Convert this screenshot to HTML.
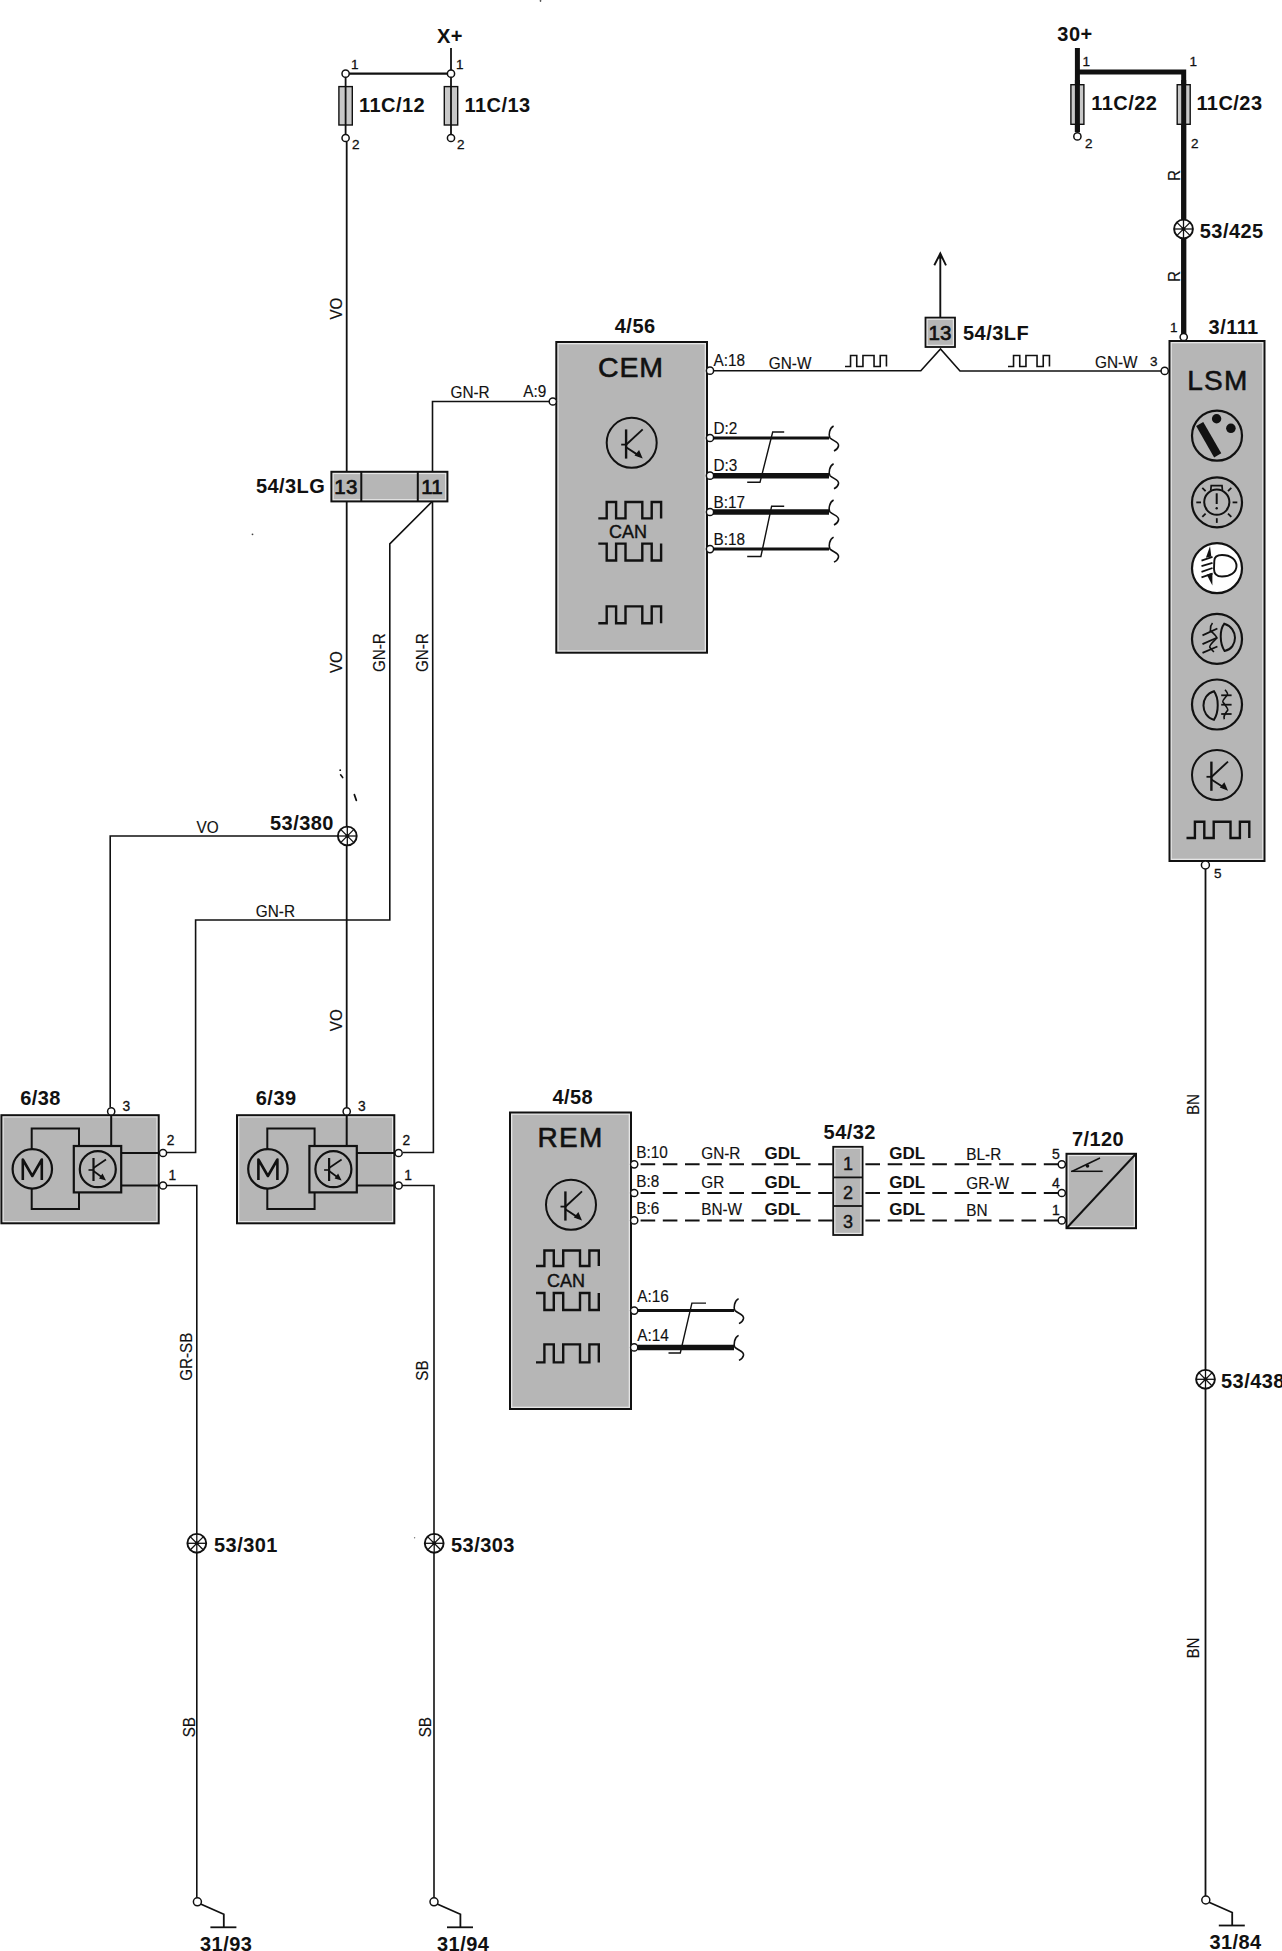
<!DOCTYPE html>
<html><head><meta charset="utf-8"><style>
html,body{margin:0;padding:0;background:#fff;width:1282px;height:1951px;overflow:hidden}
svg{display:block}
text{font-family:"Liberation Sans",sans-serif}
</style></head><body>
<svg width="1282" height="1951" viewBox="0 0 1282 1951">
<text x="450" y="43" font-size="20" font-weight="bold" text-anchor="middle" fill="#111111" letter-spacing="0.45">X+</text>
<line x1="451" y1="48" x2="451" y2="74" stroke="#111111" stroke-width="1.8" />
<line x1="345.6" y1="73.7" x2="451" y2="73.7" stroke="#111111" stroke-width="2.2" />
<rect x="338.90000000000003" y="86.6" width="13.4" height="38.4" fill="#c8c8c8" stroke="#111111" stroke-width="1.4"/>
<line x1="345.6" y1="74" x2="345.6" y2="138" stroke="#111111" stroke-width="1.8" />
<circle cx="345.6" cy="73.7" r="3.6" fill="#fff" stroke="#111111" stroke-width="1.5"/>
<circle cx="345.6" cy="138" r="3.6" fill="#fff" stroke="#111111" stroke-width="1.5"/>
<rect x="444.3" y="86.6" width="13.4" height="38.4" fill="#c8c8c8" stroke="#111111" stroke-width="1.4"/>
<line x1="451" y1="74" x2="451" y2="138" stroke="#111111" stroke-width="1.8" />
<circle cx="451" cy="73.7" r="3.6" fill="#fff" stroke="#111111" stroke-width="1.5"/>
<circle cx="451" cy="138" r="3.6" fill="#fff" stroke="#111111" stroke-width="1.5"/>
<text x="351" y="69" font-size="13.5" font-weight="normal" text-anchor="start" fill="#111111" stroke="#111111" stroke-width="0.3">1</text>
<text x="456" y="69" font-size="13.5" font-weight="normal" text-anchor="start" fill="#111111" stroke="#111111" stroke-width="0.3">1</text>
<text x="352" y="149" font-size="13.5" font-weight="normal" text-anchor="start" fill="#111111" stroke="#111111" stroke-width="0.3">2</text>
<text x="457" y="149" font-size="13.5" font-weight="normal" text-anchor="start" fill="#111111" stroke="#111111" stroke-width="0.3">2</text>
<text x="359" y="111.5" font-size="20" font-weight="bold" text-anchor="start" fill="#111111" letter-spacing="0.45">11C/12</text>
<text x="464.5" y="111.5" font-size="20" font-weight="bold" text-anchor="start" fill="#111111" letter-spacing="0.45">11C/13</text>
<text x="1075" y="41" font-size="20" font-weight="bold" text-anchor="middle" fill="#111111" letter-spacing="0.45">30+</text>
<line x1="1077.4" y1="48" x2="1077.4" y2="132" stroke="#111111" stroke-width="5" />
<polyline points="1077.4,72 1183.7,72 1183.7,337" fill="none" stroke="#111111" stroke-width="5" stroke-linejoin="miter" />
<rect x="1070.9" y="84.7" width="13.0" height="39.6" fill="#c8c8c8" stroke="#111111" stroke-width="1.4"/>
<rect x="1177.2" y="84.7" width="13.0" height="39.6" fill="#c8c8c8" stroke="#111111" stroke-width="1.4"/>
<line x1="1077.4" y1="80" x2="1077.4" y2="132" stroke="#111111" stroke-width="5" />
<line x1="1183.7" y1="80" x2="1183.7" y2="337" stroke="#111111" stroke-width="5" />
<circle cx="1077.4" cy="136.4" r="3.6" fill="#fff" stroke="#111111" stroke-width="1.5"/>
<circle cx="1183.7" cy="337" r="3.6" fill="#fff" stroke="#111111" stroke-width="1.5"/>
<text x="1082.5" y="66" font-size="13.5" font-weight="normal" text-anchor="start" fill="#111111" stroke="#111111" stroke-width="0.3">1</text>
<text x="1189.6" y="66" font-size="13.5" font-weight="normal" text-anchor="start" fill="#111111" stroke="#111111" stroke-width="0.3">1</text>
<text x="1085" y="147.5" font-size="13.5" font-weight="normal" text-anchor="start" fill="#111111" stroke="#111111" stroke-width="0.3">2</text>
<text x="1191" y="147.5" font-size="13.5" font-weight="normal" text-anchor="start" fill="#111111" stroke="#111111" stroke-width="0.3">2</text>
<text x="1091.3" y="110" font-size="20" font-weight="bold" text-anchor="start" fill="#111111" letter-spacing="0.45">11C/22</text>
<text x="1196.4" y="110" font-size="20" font-weight="bold" text-anchor="start" fill="#111111" letter-spacing="0.45">11C/23</text>
<text transform="translate(1179.5,181) rotate(-90) scale(0.92,1)" font-size="16.5" text-anchor="start" fill="#111111" stroke="#111111" stroke-width="0.15">R</text>
<text transform="translate(1179.5,282) rotate(-90) scale(0.92,1)" font-size="16.5" text-anchor="start" fill="#111111" stroke="#111111" stroke-width="0.15">R</text>
<circle cx="1183.5" cy="229" r="9.4" fill="#fff" stroke="#111111" stroke-width="1.9"/>
<line x1="1174.1" y1="229.0" x2="1192.9" y2="229.0" stroke="#111111" stroke-width="1.3" />
<line x1="1176.85" y1="222.35" x2="1190.15" y2="235.65" stroke="#111111" stroke-width="1.3" />
<line x1="1183.5" y1="219.6" x2="1183.5" y2="238.4" stroke="#111111" stroke-width="1.3" />
<line x1="1190.15" y1="222.35" x2="1176.85" y2="235.65" stroke="#111111" stroke-width="1.3" />
<circle cx="1183.5" cy="229" r="2" fill="#111111"/>
<text x="1199.8" y="237.6" font-size="20" font-weight="bold" text-anchor="start" fill="#111111" letter-spacing="0.45">53/425</text>
<rect x="1169.5" y="341" width="95.0" height="520" fill="#e6e6e6" stroke="#111111" stroke-width="2"/>
<rect x="1171.8" y="343.3" width="90.4" height="515.4" fill="#b6b6b6"/>
<text x="1170" y="332" font-size="13.5" font-weight="normal" text-anchor="start" fill="#111111" stroke="#111111" stroke-width="0.3">1</text>
<text x="1208.6" y="334.2" font-size="20" font-weight="bold" text-anchor="start" fill="#111111" letter-spacing="0.45">3/111</text>
<text x="1218" y="389.5" font-size="28" font-weight="normal" text-anchor="middle" fill="#111111" letter-spacing="1.3" stroke="#111111" stroke-width="0.6">LSM</text>
<circle cx="1164.7" cy="370.9" r="3.6" fill="#fff" stroke="#111111" stroke-width="1.5"/>
<text x="1150" y="365.6" font-size="13.5" font-weight="normal" text-anchor="start" fill="#111111" stroke="#111111" stroke-width="0.3">3</text>
<circle cx="1217" cy="435.7" r="25" fill="none" stroke="#111111" stroke-width="2.2"/>
<line x1="1199.7" y1="424" x2="1217.7" y2="455.4" stroke="#111111" stroke-width="8.2"/>
<circle cx="1216.6" cy="418.7" r="4.7" fill="#111111"/>
<circle cx="1230.9" cy="428.3" r="4.8" fill="#111111"/>
<circle cx="1217" cy="502.4" r="25" fill="none" stroke="#111111" stroke-width="2.2"/>
<circle cx="1216.8" cy="502.2" r="12.6" fill="none" stroke="#111111" stroke-width="2"/>
<path d="M1210.8,490 L1211.2,485.6 L1222,485.6 L1222.4,490" fill="none" stroke="#111111" stroke-width="1.7"/>
<line x1="1216.7" y1="493.3" x2="1216.7" y2="504" stroke="#111111" stroke-width="2" />
<circle cx="1216.7" cy="508.3" r="1.2" fill="#111111"/>
<line x1="1205.6" y1="513.6" x2="1202.3" y2="516.9" stroke="#111111" stroke-width="1.8" />
<line x1="1228.0" y1="513.6" x2="1231.3" y2="516.9" stroke="#111111" stroke-width="1.8" />
<line x1="1201.0" y1="502.4" x2="1196.3" y2="502.4" stroke="#111111" stroke-width="1.8" />
<line x1="1232.6" y1="502.4" x2="1237.3" y2="502.4" stroke="#111111" stroke-width="1.8" />
<line x1="1205.6" y1="491.2" x2="1202.3" y2="487.9" stroke="#111111" stroke-width="1.8" />
<line x1="1228.0" y1="491.2" x2="1231.3" y2="487.9" stroke="#111111" stroke-width="1.8" />
<line x1="1216.8" y1="518.2" x2="1216.8" y2="522.9" stroke="#111111" stroke-width="1.8" />
<circle cx="1217" cy="568.2" r="25" fill="#fff" stroke="#111111" stroke-width="2.2"/>
<path d="M1214.3,561 C1214.3,556.5 1217,555 1222,555 C1231,555 1236.5,560 1236.5,566 C1236.5,572.5 1230,576.5 1222,576.5 C1217,576.5 1214,574 1214,569 Z" fill="#fff" stroke="#111111" stroke-width="1.9"/>
<line x1="1201.5" y1="560.6" x2="1212.5" y2="556.8" stroke="#111111" stroke-width="1.8" />
<line x1="1201.5" y1="566.2" x2="1212.5" y2="562.8" stroke="#111111" stroke-width="1.8" />
<line x1="1201.5" y1="571.8" x2="1212.5" y2="568" stroke="#111111" stroke-width="1.8" />
<line x1="1201.5" y1="577.4" x2="1212.5" y2="573.7" stroke="#111111" stroke-width="1.8" />
<polygon points="1210,546.2 1205.9,557.8 1211.3,556.6" fill="#111111"/>
<polygon points="1206.8,574.8 1212.4,572.8 1212.4,585.5" fill="#111111"/>
<circle cx="1217" cy="638.9" r="25" fill="none" stroke="#111111" stroke-width="2.2"/>
<path d="M1224.3,623.7 C1238.5,628 1238.5,648 1224.6,651 C1219.5,643 1219.5,630 1224.3,623.7 Z" fill="none" stroke="#111111" stroke-width="2"/>
<line x1="1202.5" y1="635.4" x2="1217.4" y2="628.5" stroke="#111111" stroke-width="1.8" />
<line x1="1202.5" y1="644.1" x2="1217.4" y2="637.5" stroke="#111111" stroke-width="1.8" />
<line x1="1202.5" y1="652.8" x2="1217.4" y2="646.5" stroke="#111111" stroke-width="1.8" />
<path d="M1212.5,623 C1209,627 1211,630 1210.4,630.6 C1214,634 1217,636 1216.7,638.2 C1213,642 1209,645 1209.8,647.2 C1211,649 1213,651 1213.9,652" fill="none" stroke="#111111" stroke-width="1.6"/>
<circle cx="1217" cy="704.5" r="25" fill="none" stroke="#111111" stroke-width="2.2"/>
<path d="M1213.9,691.2 C1200,695 1200,716 1213.9,719.9 C1219,712 1219,698 1213.9,691.2 Z" fill="none" stroke="#111111" stroke-width="2"/>
<line x1="1221.2" y1="695.3" x2="1231.6" y2="695.3" stroke="#111111" stroke-width="1.8" />
<line x1="1221.2" y1="704.7" x2="1231.6" y2="704.7" stroke="#111111" stroke-width="1.8" />
<line x1="1221.2" y1="714" x2="1231.6" y2="714" stroke="#111111" stroke-width="1.8" />
<path d="M1225,689.8 C1227,692 1228,694 1227.3,695 C1224,699 1222,701 1222.9,702 C1226,706 1228,709 1227.8,710 C1225,714 1223,716 1224.3,719.2" fill="none" stroke="#111111" stroke-width="1.6"/>
<circle cx="1217" cy="775" r="25" fill="none" stroke="#111111" stroke-width="2"/>
<line x1="1211.4" y1="761.6" x2="1211.4" y2="790.8" stroke="#111111" stroke-width="2.4" />
<line x1="1206.5" y1="776.8" x2="1211.4" y2="776.8" stroke="#111111" stroke-width="1.8" />
<line x1="1211.4" y1="777" x2="1228" y2="761.6" stroke="#111111" stroke-width="1.9" />
<line x1="1211.4" y1="779.5" x2="1225" y2="788.3" stroke="#111111" stroke-width="1.9" />
<polygon points="1228,790.8 1219.8,787.5999999999999 1224.4,782.1999999999999" fill="#111111"/>
<polyline points="1186.5,838 1194.9,838 1194.9,821.7 1204.3,821.7 1204.3,838 1213.7,838 1213.7,821.7 1230.5,821.7 1230.5,838 1239.9,838 1239.9,821.7 1249.3,821.7 1249.3,838" fill="none" stroke="#111111" stroke-width="2.4" stroke-linejoin="miter" />
<circle cx="1205.4" cy="865" r="4" fill="#fff" stroke="#111111" stroke-width="1.5"/>
<text x="1214" y="877.5" font-size="13.5" font-weight="normal" text-anchor="start" fill="#111111" stroke="#111111" stroke-width="0.3">5</text>
<line x1="1205.5" y1="869" x2="1205.5" y2="1896" stroke="#111111" stroke-width="1.8" />
<circle cx="1205.5" cy="1379.3" r="9.4" fill="#fff" stroke="#111111" stroke-width="1.9"/>
<line x1="1196.1" y1="1379.3" x2="1214.9" y2="1379.3" stroke="#111111" stroke-width="1.3" />
<line x1="1198.85" y1="1372.65" x2="1212.15" y2="1385.95" stroke="#111111" stroke-width="1.3" />
<line x1="1205.5" y1="1369.9" x2="1205.5" y2="1388.7" stroke="#111111" stroke-width="1.3" />
<line x1="1212.15" y1="1372.65" x2="1198.85" y2="1385.95" stroke="#111111" stroke-width="1.3" />
<circle cx="1205.5" cy="1379.3" r="2" fill="#111111"/>
<text x="1221" y="1387.6" font-size="20" font-weight="bold" text-anchor="start" fill="#111111" letter-spacing="0.45">53/438</text>
<text transform="translate(1199,1115) rotate(-90) scale(0.92,1)" font-size="16.5" text-anchor="start" fill="#111111" stroke="#111111" stroke-width="0.15">BN</text>
<text transform="translate(1199,1658.5) rotate(-90) scale(0.92,1)" font-size="16.5" text-anchor="start" fill="#111111" stroke="#111111" stroke-width="0.15">BN</text>
<circle cx="1205.8" cy="1900" r="4" fill="#fff" stroke="#111111" stroke-width="1.5"/>
<polyline points="1209.0,1902.2 1232.2,1912.5 1232.2,1925.5" fill="none" stroke="#111111" stroke-width="1.8" stroke-linejoin="miter" />
<line x1="1218.8" y1="1925.5" x2="1244.8" y2="1925.5" stroke="#111111" stroke-width="1.8" />
<text x="1209.4" y="1949" font-size="20" font-weight="bold" text-anchor="start" fill="#111111" letter-spacing="0.45">31/84</text>
<line x1="940.3" y1="256" x2="940.3" y2="317.6" stroke="#111111" stroke-width="1.9" />
<polyline points="934.3,265.3 940.3,253.5 946,265.3" fill="none" stroke="#111111" stroke-width="1.9"/>
<polygon points="940.3,252.2 938.2,258.5 942.4,258.5" fill="#111111"/>
<rect x="925.5" y="317.6" width="29.5" height="29.4" fill="#e6e6e6" stroke="#111111" stroke-width="1.8"/>
<rect x="927.7" y="319.8" width="25.1" height="25.0" fill="#b6b6b6"/>
<text x="940" y="340.3" font-size="20.5" font-weight="normal" text-anchor="middle" fill="#111111" stroke="#111111" stroke-width="0.7">13</text>
<text x="963" y="340.2" font-size="20" font-weight="bold" text-anchor="start" fill="#111111" letter-spacing="0.45">54/3LF</text>
<polyline points="710,370.7 920.8,370.7 940.5,349 960,371 1161,371" fill="none" stroke="#111111" stroke-width="1.6" stroke-linejoin="miter" />
<text transform="translate(1095,367.8) scale(0.93,1)" font-size="16.5" text-anchor="start" fill="#111111" stroke="#111111" stroke-width="0.15">GN-W</text>
<polyline points="1008.0,366.5 1013.54,366.5 1013.54,355.5 1019.75,355.5 1019.75,366.5 1025.95,366.5 1025.95,355.5 1037.04,355.5 1037.04,366.5 1043.24,366.5 1043.24,355.5 1049.45,355.5 1049.45,366.5" fill="none" stroke="#111111" stroke-width="1.6" stroke-linejoin="miter" />
<polyline points="845.0,366.5 850.54,366.5 850.54,355.5 856.75,355.5 856.75,366.5 862.95,366.5 862.95,355.5 874.04,355.5 874.04,366.5 880.24,366.5 880.24,355.5 886.45,355.5 886.45,366.5" fill="none" stroke="#111111" stroke-width="1.6" stroke-linejoin="miter" />
<text transform="translate(768.8,368.9) scale(0.93,1)" font-size="16.5" text-anchor="start" fill="#111111" stroke="#111111" stroke-width="0.15">GN-W</text>
<text x="614.8" y="333" font-size="20" font-weight="bold" text-anchor="start" fill="#111111" letter-spacing="0.45">4/56</text>
<rect x="556.3" y="342" width="150.7" height="310.7" fill="#e6e6e6" stroke="#111111" stroke-width="2"/>
<rect x="558.6" y="344.3" width="146.1" height="306.1" fill="#b6b6b6"/>
<text x="631" y="376.5" font-size="28.5" font-weight="normal" text-anchor="middle" fill="#111111" letter-spacing="0.9" stroke="#111111" stroke-width="0.6">CEM</text>
<circle cx="710" cy="370.7" r="3.6" fill="#fff" stroke="#111111" stroke-width="1.5"/>
<text transform="translate(713.5,365.7) scale(0.93,1)" font-size="16.5" text-anchor="start" fill="#111111" stroke="#111111" stroke-width="0.15">A:18</text>
<polyline points="432.5,471.8 432.5,401.5 549,401.5" fill="none" stroke="#111111" stroke-width="1.6" stroke-linejoin="miter" />
<circle cx="552.8" cy="401.5" r="3.6" fill="#fff" stroke="#111111" stroke-width="1.5"/>
<text transform="translate(523.3,397) scale(0.93,1)" font-size="16.5" text-anchor="start" fill="#111111" stroke="#111111" stroke-width="0.15">A:9</text>
<text transform="translate(450.5,397.6) scale(0.93,1)" font-size="16.5" text-anchor="start" fill="#111111" stroke="#111111" stroke-width="0.15">GN-R</text>
<circle cx="631.7" cy="442.8" r="25" fill="none" stroke="#111111" stroke-width="2"/>
<line x1="626.1" y1="429.40000000000003" x2="626.1" y2="458.6" stroke="#111111" stroke-width="2.4" />
<line x1="621.2" y1="444.6" x2="626.1" y2="444.6" stroke="#111111" stroke-width="1.8" />
<line x1="626.1" y1="444.8" x2="642.7" y2="429.40000000000003" stroke="#111111" stroke-width="1.9" />
<line x1="626.1" y1="447.3" x2="639.7" y2="456.1" stroke="#111111" stroke-width="1.9" />
<polygon points="642.7,458.6 634.5,455.40000000000003 639.1,450.0" fill="#111111"/>
<polyline points="598.3,518.4 606.7,518.4 606.7,502.0 616.1,502.0 616.1,518.4 625.5,518.4 625.5,502.0 642.3,502.0 642.3,518.4 651.7,518.4 651.7,502.0 661.1,502.0 661.1,518.4" fill="none" stroke="#111111" stroke-width="2.4" stroke-linejoin="miter" />
<text x="628" y="537.6" font-size="18" font-weight="normal" text-anchor="middle" fill="#111111" stroke="#111111" stroke-width="0.4">CAN</text>
<polyline points="598.3,543.6 606.7,543.6 606.7,560.5 616.1,560.5 616.1,543.6 625.5,543.6 625.5,560.5 642.3,560.5 642.3,543.6 651.7,543.6 651.7,560.5 661.1,560.5 661.1,543.6" fill="none" stroke="#111111" stroke-width="2.4" stroke-linejoin="miter" />
<polyline points="598.3,623.2 606.7,623.2 606.7,606.4000000000001 616.1,606.4000000000001 616.1,623.2 625.5,623.2 625.5,606.4000000000001 642.3,606.4000000000001 642.3,623.2 651.7,623.2 651.7,606.4000000000001 661.1,606.4000000000001 661.1,623.2" fill="none" stroke="#111111" stroke-width="2.4" stroke-linejoin="miter" />
<line x1="713" y1="438" x2="829" y2="438" stroke="#111111" stroke-width="3" />
<circle cx="710" cy="438" r="3.6" fill="#fff" stroke="#111111" stroke-width="1.5"/>
<text transform="translate(713.5,433.6) scale(0.93,1)" font-size="16.5" text-anchor="start" fill="#111111" stroke="#111111" stroke-width="0.15">D:2</text>
<path d="M833.6,426 C829.5,428 828.2,435 830,438 C833,441 839.5,442 838.5,446 C838,448 836,450 834,451" fill="none" stroke="#111111" stroke-width="1.6"/>
<line x1="713" y1="475.7" x2="829" y2="475.7" stroke="#111111" stroke-width="5.5" />
<circle cx="710" cy="475.7" r="3.6" fill="#fff" stroke="#111111" stroke-width="1.5"/>
<text transform="translate(713.5,471.3) scale(0.93,1)" font-size="16.5" text-anchor="start" fill="#111111" stroke="#111111" stroke-width="0.15">D:3</text>
<path d="M833.6,463.7 C829.5,465.7 828.2,472.7 830,475.7 C833,478.7 839.5,479.7 838.5,483.7 C838,485.7 836,487.7 834,488.7" fill="none" stroke="#111111" stroke-width="1.6"/>
<line x1="713" y1="512" x2="829" y2="512" stroke="#111111" stroke-width="5.5" />
<circle cx="710" cy="512" r="3.6" fill="#fff" stroke="#111111" stroke-width="1.5"/>
<text transform="translate(713.5,507.6) scale(0.93,1)" font-size="16.5" text-anchor="start" fill="#111111" stroke="#111111" stroke-width="0.15">B:17</text>
<path d="M833.6,500 C829.5,502 828.2,509 830,512 C833,515 839.5,516 838.5,520 C838,522 836,524 834,525" fill="none" stroke="#111111" stroke-width="1.6"/>
<line x1="713" y1="549.1" x2="829" y2="549.1" stroke="#111111" stroke-width="3" />
<circle cx="710" cy="549.1" r="3.6" fill="#fff" stroke="#111111" stroke-width="1.5"/>
<text transform="translate(713.5,544.7) scale(0.93,1)" font-size="16.5" text-anchor="start" fill="#111111" stroke="#111111" stroke-width="0.15">B:18</text>
<path d="M833.6,537.1 C829.5,539.1 828.2,546.1 830,549.1 C833,552.1 839.5,553.1 838.5,557.1 C838,559.1 836,561.1 834,562.1" fill="none" stroke="#111111" stroke-width="1.6"/>
<polyline points="747.2,482.3 760,482.3 772.7,432 784.2,432" fill="none" stroke="#111111" stroke-width="1.4" stroke-linejoin="miter" />
<polyline points="784.2,506.3 771.6,506.3 760.9,556.5 747.2,556.5" fill="none" stroke="#111111" stroke-width="1.4" stroke-linejoin="miter" />
<text x="255.9" y="493" font-size="20" font-weight="bold" text-anchor="start" fill="#111111" letter-spacing="0.45">54/3LG</text>
<rect x="331.4" y="471.8" width="116.0" height="29.6" fill="#e6e6e6" stroke="#111111" stroke-width="2"/>
<rect x="333.7" y="474.1" width="111.4" height="25.0" fill="#b6b6b6"/>
<line x1="361.3" y1="471.8" x2="361.3" y2="501.4" stroke="#111111" stroke-width="2" />
<line x1="417.8" y1="471.8" x2="417.8" y2="501.4" stroke="#111111" stroke-width="2" />
<text x="346" y="494.3" font-size="20.5" font-weight="normal" text-anchor="middle" fill="#111111" letter-spacing="0.4" stroke="#111111" stroke-width="0.7">13</text>
<text x="432" y="494.3" font-size="20.5" font-weight="normal" text-anchor="middle" fill="#111111" stroke="#111111" stroke-width="0.7">11</text>
<line x1="346.7" y1="142" x2="346.7" y2="471.8" stroke="#111111" stroke-width="1.8" />
<line x1="346.7" y1="501.4" x2="346.7" y2="1107" stroke="#111111" stroke-width="1.8" />
<text transform="translate(341.8,319.5) rotate(-90) scale(0.92,1)" font-size="16.5" text-anchor="start" fill="#111111" stroke="#111111" stroke-width="0.15">VO</text>
<text transform="translate(341.8,673) rotate(-90) scale(0.92,1)" font-size="16.5" text-anchor="start" fill="#111111" stroke="#111111" stroke-width="0.15">VO</text>
<text transform="translate(341.8,1031.2) rotate(-90) scale(0.92,1)" font-size="16.5" text-anchor="start" fill="#111111" stroke="#111111" stroke-width="0.15">VO</text>
<polyline points="432.3,501.4 389.8,543.9 389.8,920 195.6,920 195.6,1152.5 166.5,1152.5" fill="none" stroke="#111111" stroke-width="1.6" stroke-linejoin="miter" />
<polyline points="432.5,501.4 433.4,1152.5 403,1152.5" fill="none" stroke="#111111" stroke-width="1.6" stroke-linejoin="miter" />
<text transform="translate(384.5,672) rotate(-90) scale(0.92,1)" font-size="16.5" text-anchor="start" fill="#111111" stroke="#111111" stroke-width="0.15">GN-R</text>
<text transform="translate(427.5,672) rotate(-90) scale(0.92,1)" font-size="16.5" text-anchor="start" fill="#111111" stroke="#111111" stroke-width="0.15">GN-R</text>
<text transform="translate(255.8,917.4) scale(0.93,1)" font-size="16.5" text-anchor="start" fill="#111111" stroke="#111111" stroke-width="0.15">GN-R</text>
<polyline points="347.3,836 110.2,836 110.2,1107" fill="none" stroke="#111111" stroke-width="1.6" stroke-linejoin="miter" />
<circle cx="347.3" cy="836" r="9.4" fill="#fff" stroke="#111111" stroke-width="1.9"/>
<line x1="337.9" y1="836.0" x2="356.7" y2="836.0" stroke="#111111" stroke-width="1.3" />
<line x1="340.65" y1="829.35" x2="353.95" y2="842.65" stroke="#111111" stroke-width="1.3" />
<line x1="347.3" y1="826.6" x2="347.3" y2="845.4" stroke="#111111" stroke-width="1.3" />
<line x1="353.95" y1="829.35" x2="340.65" y2="842.65" stroke="#111111" stroke-width="1.3" />
<circle cx="347.3" cy="836" r="2" fill="#111111"/>
<text x="270" y="830.2" font-size="20" font-weight="bold" text-anchor="start" fill="#111111" letter-spacing="0.45">53/380</text>
<text transform="translate(196.6,833) scale(0.93,1)" font-size="16.5" text-anchor="start" fill="#111111" stroke="#111111" stroke-width="0.15">VO</text>
<text x="20.2" y="1105" font-size="20" font-weight="bold" text-anchor="start" fill="#111111" letter-spacing="0.45">6/38</text>
<rect x="1.4" y="1115.2" width="157.3" height="108.1" fill="#e6e6e6" stroke="#111111" stroke-width="2"/>
<rect x="3.7" y="1117.5" width="152.7" height="103.5" fill="#b6b6b6"/>
<polyline points="79,1146 79,1128.4 31.7,1128.4 31.7,1209 79,1209 79,1192.4" fill="none" stroke="#111111" stroke-width="2" stroke-linejoin="miter" />
<rect x="73.8" y="1146" width="47.4" height="46.4" fill="#b6b6b6" stroke="#111111" stroke-width="2.2"/>
<circle cx="32.3" cy="1168.9" r="19.7" fill="#b6b6b6" stroke="#111111" stroke-width="2.2"/>
<path d="M22.8,1180 L22.8,1159.5 L32.3,1176 L41.8,1159.5 L41.8,1180" fill="none" stroke="#111111" stroke-width="2.6" stroke-linejoin="round"/>
<circle cx="97.8" cy="1169.2" r="18" fill="none" stroke="#111111" stroke-width="2.2"/>
<line x1="93.5" y1="1158" x2="93.5" y2="1181" stroke="#111111" stroke-width="2.2" />
<line x1="88.5" y1="1170" x2="93.5" y2="1170" stroke="#111111" stroke-width="1.6" />
<line x1="93.5" y1="1168" x2="106" y2="1159.5" stroke="#111111" stroke-width="1.7" />
<line x1="93.5" y1="1171" x2="103" y2="1178" stroke="#111111" stroke-width="1.7" />
<polygon points="106,1180.5 99,1178.5 102.5,1173.5" fill="#111111"/>
<line x1="111.2" y1="1111" x2="111.2" y2="1146" stroke="#111111" stroke-width="2" />
<circle cx="111.2" cy="1111.4" r="3.6" fill="#fff" stroke="#111111" stroke-width="1.5"/>
<text x="122.5" y="1111" font-size="13.8" font-weight="normal" text-anchor="start" fill="#111111" stroke="#111111" stroke-width="0.3">3</text>
<line x1="121.2" y1="1153" x2="159" y2="1153" stroke="#111111" stroke-width="2" />
<line x1="121.2" y1="1185.5" x2="159" y2="1185.5" stroke="#111111" stroke-width="2" />
<circle cx="163" cy="1153" r="3.6" fill="#fff" stroke="#111111" stroke-width="1.5"/>
<circle cx="163" cy="1185.5" r="3.6" fill="#fff" stroke="#111111" stroke-width="1.5"/>
<text x="166.8" y="1144.5" font-size="13.8" font-weight="normal" text-anchor="start" fill="#111111" stroke="#111111" stroke-width="0.3">2</text>
<text x="168.6" y="1180" font-size="13.8" font-weight="normal" text-anchor="start" fill="#111111" stroke="#111111" stroke-width="0.3">1</text>
<text x="255.79999999999998" y="1105" font-size="20" font-weight="bold" text-anchor="start" fill="#111111" letter-spacing="0.45">6/39</text>
<rect x="237.0" y="1115.2" width="157.3" height="108.1" fill="#e6e6e6" stroke="#111111" stroke-width="2"/>
<rect x="239.3" y="1117.5" width="152.7" height="103.5" fill="#b6b6b6"/>
<polyline points="314.6,1146 314.6,1128.4 267.3,1128.4 267.3,1209 314.6,1209 314.6,1192.4" fill="none" stroke="#111111" stroke-width="2" stroke-linejoin="miter" />
<rect x="309.4" y="1146" width="47.4" height="46.4" fill="#b6b6b6" stroke="#111111" stroke-width="2.2"/>
<circle cx="267.9" cy="1168.9" r="19.7" fill="#b6b6b6" stroke="#111111" stroke-width="2.2"/>
<path d="M258.4,1180 L258.4,1159.5 L267.9,1176 L277.4,1159.5 L277.4,1180" fill="none" stroke="#111111" stroke-width="2.6" stroke-linejoin="round"/>
<circle cx="333.4" cy="1169.2" r="18" fill="none" stroke="#111111" stroke-width="2.2"/>
<line x1="329.1" y1="1158" x2="329.1" y2="1181" stroke="#111111" stroke-width="2.2" />
<line x1="324.1" y1="1170" x2="329.1" y2="1170" stroke="#111111" stroke-width="1.6" />
<line x1="329.1" y1="1168" x2="341.6" y2="1159.5" stroke="#111111" stroke-width="1.7" />
<line x1="329.1" y1="1171" x2="338.6" y2="1178" stroke="#111111" stroke-width="1.7" />
<polygon points="341.6,1180.5 334.6,1178.5 338.1,1173.5" fill="#111111"/>
<line x1="346.7" y1="1111" x2="346.7" y2="1146" stroke="#111111" stroke-width="2" />
<circle cx="346.7" cy="1111.4" r="3.6" fill="#fff" stroke="#111111" stroke-width="1.5"/>
<text x="358.1" y="1111" font-size="13.8" font-weight="normal" text-anchor="start" fill="#111111" stroke="#111111" stroke-width="0.3">3</text>
<line x1="356.8" y1="1153" x2="394.6" y2="1153" stroke="#111111" stroke-width="2" />
<line x1="356.8" y1="1185.5" x2="394.6" y2="1185.5" stroke="#111111" stroke-width="2" />
<circle cx="398.6" cy="1153" r="3.6" fill="#fff" stroke="#111111" stroke-width="1.5"/>
<circle cx="398.6" cy="1185.5" r="3.6" fill="#fff" stroke="#111111" stroke-width="1.5"/>
<text x="402.4" y="1144.5" font-size="13.8" font-weight="normal" text-anchor="start" fill="#111111" stroke="#111111" stroke-width="0.3">2</text>
<text x="404.2" y="1180" font-size="13.8" font-weight="normal" text-anchor="start" fill="#111111" stroke="#111111" stroke-width="0.3">1</text>
<polyline points="166.6,1185.5 196.8,1185.5 196.8,1897.8" fill="none" stroke="#111111" stroke-width="1.6" stroke-linejoin="miter" />
<polyline points="402,1185.5 434,1185.5 434,1897.8" fill="none" stroke="#111111" stroke-width="1.6" stroke-linejoin="miter" />
<text transform="translate(191.5,1380.7) rotate(-90) scale(0.92,1)" font-size="16.5" text-anchor="start" fill="#111111" stroke="#111111" stroke-width="0.15">GR-SB</text>
<text transform="translate(428,1380.7) rotate(-90) scale(0.92,1)" font-size="16.5" text-anchor="start" fill="#111111" stroke="#111111" stroke-width="0.15">SB</text>
<text transform="translate(194.6,1737.3) rotate(-90) scale(0.92,1)" font-size="16.5" text-anchor="start" fill="#111111" stroke="#111111" stroke-width="0.15">SB</text>
<text transform="translate(431,1737.3) rotate(-90) scale(0.92,1)" font-size="16.5" text-anchor="start" fill="#111111" stroke="#111111" stroke-width="0.15">SB</text>
<circle cx="196.8" cy="1543.3" r="9.4" fill="#fff" stroke="#111111" stroke-width="1.9"/>
<line x1="187.4" y1="1543.3" x2="206.2" y2="1543.3" stroke="#111111" stroke-width="1.3" />
<line x1="190.15" y1="1536.65" x2="203.45" y2="1549.95" stroke="#111111" stroke-width="1.3" />
<line x1="196.8" y1="1533.9" x2="196.8" y2="1552.7" stroke="#111111" stroke-width="1.3" />
<line x1="203.45" y1="1536.65" x2="190.15" y2="1549.95" stroke="#111111" stroke-width="1.3" />
<circle cx="196.8" cy="1543.3" r="2" fill="#111111"/>
<circle cx="434.2" cy="1543.3" r="9.4" fill="#fff" stroke="#111111" stroke-width="1.9"/>
<line x1="424.8" y1="1543.3" x2="443.6" y2="1543.3" stroke="#111111" stroke-width="1.3" />
<line x1="427.55" y1="1536.65" x2="440.85" y2="1549.95" stroke="#111111" stroke-width="1.3" />
<line x1="434.2" y1="1533.9" x2="434.2" y2="1552.7" stroke="#111111" stroke-width="1.3" />
<line x1="440.85" y1="1536.65" x2="427.55" y2="1549.95" stroke="#111111" stroke-width="1.3" />
<circle cx="434.2" cy="1543.3" r="2" fill="#111111"/>
<text x="214" y="1552" font-size="20" font-weight="bold" text-anchor="start" fill="#111111" letter-spacing="0.45">53/301</text>
<text x="451" y="1552" font-size="20" font-weight="bold" text-anchor="start" fill="#111111" letter-spacing="0.45">53/303</text>
<circle cx="197.4" cy="1901.8" r="4" fill="#fff" stroke="#111111" stroke-width="1.5"/>
<polyline points="200.6,1904.0 223.8,1914.3 223.8,1927.3" fill="none" stroke="#111111" stroke-width="1.8" stroke-linejoin="miter" />
<line x1="210.4" y1="1927.3" x2="236.4" y2="1927.3" stroke="#111111" stroke-width="1.8" />
<text x="200" y="1950.8" font-size="20" font-weight="bold" text-anchor="start" fill="#111111" letter-spacing="0.45">31/93</text>
<circle cx="434" cy="1901.8" r="4" fill="#fff" stroke="#111111" stroke-width="1.5"/>
<polyline points="437.2,1904.0 460.4,1914.3 460.4,1927.3" fill="none" stroke="#111111" stroke-width="1.8" stroke-linejoin="miter" />
<line x1="447" y1="1927.3" x2="473" y2="1927.3" stroke="#111111" stroke-width="1.8" />
<text x="437" y="1950.8" font-size="20" font-weight="bold" text-anchor="start" fill="#111111" letter-spacing="0.45">31/94</text>
<text x="552.4" y="1104" font-size="20" font-weight="bold" text-anchor="start" fill="#111111" letter-spacing="0.45">4/58</text>
<rect x="510" y="1112.5" width="121" height="296.5" fill="#e6e6e6" stroke="#111111" stroke-width="2"/>
<rect x="512.3" y="1114.8" width="116.4" height="291.9" fill="#b6b6b6"/>
<text x="570.5" y="1147.2" font-size="28" font-weight="normal" text-anchor="middle" fill="#111111" letter-spacing="1.3" stroke="#111111" stroke-width="0.6">REM</text>
<circle cx="571" cy="1204.8" r="25" fill="none" stroke="#111111" stroke-width="2"/>
<line x1="565.4" y1="1191.3999999999999" x2="565.4" y2="1220.6" stroke="#111111" stroke-width="2.4" />
<line x1="560.5" y1="1206.6" x2="565.4" y2="1206.6" stroke="#111111" stroke-width="1.8" />
<line x1="565.4" y1="1206.8" x2="582" y2="1191.3999999999999" stroke="#111111" stroke-width="1.9" />
<line x1="565.4" y1="1209.3" x2="579" y2="1218.1" stroke="#111111" stroke-width="1.9" />
<polygon points="582,1220.6 573.8,1217.3999999999999 578.4,1212.0" fill="#111111"/>
<polyline points="536,1266 544.4,1266 544.4,1250.5 553.8,1250.5 553.8,1266 563.2,1266 563.2,1250.5 580,1250.5 580,1266 589.4,1266 589.4,1250.5 598.8,1250.5 598.8,1266" fill="none" stroke="#111111" stroke-width="2.4" stroke-linejoin="miter" />
<text x="566" y="1287" font-size="18" font-weight="normal" text-anchor="middle" fill="#111111" stroke="#111111" stroke-width="0.4">CAN</text>
<polyline points="536,1293 544.4,1293 544.4,1310 553.8,1310 553.8,1293 563.2,1293 563.2,1310 580,1310 580,1293 589.4,1293 589.4,1310 598.8,1310 598.8,1293" fill="none" stroke="#111111" stroke-width="2.4" stroke-linejoin="miter" />
<polyline points="536,1362.4 544.4,1362.4 544.4,1344.4 553.8,1344.4 553.8,1362.4 563.2,1362.4 563.2,1344.4 580,1344.4 580,1362.4 589.4,1362.4 589.4,1344.4 598.8,1344.4 598.8,1362.4" fill="none" stroke="#111111" stroke-width="2.4" stroke-linejoin="miter" />
<circle cx="634.2" cy="1164.3" r="3.6" fill="#fff" stroke="#111111" stroke-width="1.5"/>
<text transform="translate(636.3,1158.3) scale(0.93,1)" font-size="16.5" text-anchor="start" fill="#111111" stroke="#111111" stroke-width="0.15">B:10</text>
<line x1="640.6" y1="1164.3" x2="833.2" y2="1164.3" stroke="#111111" stroke-width="2" stroke-dasharray="14.6,7.6"/>
<line x1="865.4" y1="1164.3" x2="1058.5" y2="1164.3" stroke="#111111" stroke-width="2" stroke-dasharray="14.6,7.7"/>
<text transform="translate(701.2,1159.3) scale(0.93,1)" font-size="16.5" text-anchor="start" fill="#111111" stroke="#111111" stroke-width="0.15">GN-R</text>
<text x="764.6" y="1159.3" font-size="17" font-weight="bold" text-anchor="start" fill="#111111">GDL</text>
<text x="889.3" y="1159.3" font-size="17" font-weight="bold" text-anchor="start" fill="#111111">GDL</text>
<circle cx="634.2" cy="1193" r="3.6" fill="#fff" stroke="#111111" stroke-width="1.5"/>
<text transform="translate(636.3,1187) scale(0.93,1)" font-size="16.5" text-anchor="start" fill="#111111" stroke="#111111" stroke-width="0.15">B:8</text>
<line x1="640.6" y1="1193" x2="833.2" y2="1193" stroke="#111111" stroke-width="2" stroke-dasharray="14.6,7.6"/>
<line x1="865.4" y1="1193" x2="1058.5" y2="1193" stroke="#111111" stroke-width="2" stroke-dasharray="14.6,7.7"/>
<text transform="translate(701.2,1188) scale(0.93,1)" font-size="16.5" text-anchor="start" fill="#111111" stroke="#111111" stroke-width="0.15">GR</text>
<text x="764.6" y="1188" font-size="17" font-weight="bold" text-anchor="start" fill="#111111">GDL</text>
<text x="889.3" y="1188" font-size="17" font-weight="bold" text-anchor="start" fill="#111111">GDL</text>
<circle cx="634.2" cy="1220.4" r="3.6" fill="#fff" stroke="#111111" stroke-width="1.5"/>
<text transform="translate(636.3,1214.4) scale(0.93,1)" font-size="16.5" text-anchor="start" fill="#111111" stroke="#111111" stroke-width="0.15">B:6</text>
<line x1="640.6" y1="1220.4" x2="833.2" y2="1220.4" stroke="#111111" stroke-width="2" stroke-dasharray="14.6,7.6"/>
<line x1="865.4" y1="1220.4" x2="1058.5" y2="1220.4" stroke="#111111" stroke-width="2" stroke-dasharray="14.6,7.7"/>
<text transform="translate(701.2,1215.4) scale(0.93,1)" font-size="16.5" text-anchor="start" fill="#111111" stroke="#111111" stroke-width="0.15">BN-W</text>
<text x="764.6" y="1215.4" font-size="17" font-weight="bold" text-anchor="start" fill="#111111">GDL</text>
<text x="889.3" y="1215.4" font-size="17" font-weight="bold" text-anchor="start" fill="#111111">GDL</text>
<text x="823.6" y="1139.3" font-size="20" font-weight="bold" text-anchor="start" fill="#111111" letter-spacing="0.45">54/32</text>
<rect x="833.2" y="1146.8" width="29.4" height="88.2" fill="#e6e6e6" stroke="#111111" stroke-width="1.8"/>
<rect x="835.4" y="1149.0" width="25.0" height="83.8" fill="#b6b6b6"/>
<line x1="833.2" y1="1177.4" x2="862.6" y2="1177.4" stroke="#111111" stroke-width="1.8" />
<line x1="833.2" y1="1206" x2="862.6" y2="1206" stroke="#111111" stroke-width="1.8" />
<text x="848" y="1170" font-size="18" font-weight="normal" text-anchor="middle" fill="#111111" stroke="#111111" stroke-width="0.4">1</text>
<text x="848" y="1199" font-size="18" font-weight="normal" text-anchor="middle" fill="#111111" stroke="#111111" stroke-width="0.4">2</text>
<text x="848" y="1228" font-size="18" font-weight="normal" text-anchor="middle" fill="#111111" stroke="#111111" stroke-width="0.4">3</text>
<text transform="translate(966.3,1159.8) scale(0.93,1)" font-size="16.5" text-anchor="start" fill="#111111" stroke="#111111" stroke-width="0.15">BL-R</text>
<circle cx="1061.8" cy="1164.3" r="3.6" fill="#fff" stroke="#111111" stroke-width="1.5"/>
<text x="1052" y="1159.3" font-size="14" font-weight="normal" text-anchor="start" fill="#111111" stroke="#111111" stroke-width="0.31">5</text>
<text transform="translate(966.3,1188.5) scale(0.93,1)" font-size="16.5" text-anchor="start" fill="#111111" stroke="#111111" stroke-width="0.15">GR-W</text>
<circle cx="1061.8" cy="1193" r="3.6" fill="#fff" stroke="#111111" stroke-width="1.5"/>
<text x="1052" y="1188" font-size="14" font-weight="normal" text-anchor="start" fill="#111111" stroke="#111111" stroke-width="0.31">4</text>
<text transform="translate(966.3,1215.9) scale(0.93,1)" font-size="16.5" text-anchor="start" fill="#111111" stroke="#111111" stroke-width="0.15">BN</text>
<circle cx="1061.8" cy="1220.4" r="3.6" fill="#fff" stroke="#111111" stroke-width="1.5"/>
<text x="1052" y="1215.4" font-size="14" font-weight="normal" text-anchor="start" fill="#111111" stroke="#111111" stroke-width="0.31">1</text>
<text x="1071.9" y="1146.3" font-size="20" font-weight="bold" text-anchor="start" fill="#111111" letter-spacing="0.45">7/120</text>
<rect x="1066.5" y="1153.8" width="69.5" height="74.4" fill="#e6e6e6" stroke="#111111" stroke-width="2"/>
<rect x="1068.8" y="1156.1" width="64.9" height="69.8" fill="#b6b6b6"/>
<line x1="1066.5" y1="1228.2" x2="1136" y2="1153.8" stroke="#111111" stroke-width="2" />
<line x1="1071" y1="1171.3" x2="1102.7" y2="1171.3" stroke="#111111" stroke-width="1.5" />
<line x1="1072.3" y1="1171.3" x2="1100" y2="1158" stroke="#111111" stroke-width="1.5" />
<circle cx="1087.5" cy="1166" r="1.8" fill="#111111"/>
<circle cx="634.2" cy="1310.6" r="3.6" fill="#fff" stroke="#111111" stroke-width="1.5"/>
<text transform="translate(637.3,1302.1999999999998) scale(0.93,1)" font-size="16.5" text-anchor="start" fill="#111111" stroke="#111111" stroke-width="0.15">A:16</text>
<line x1="638" y1="1310.6" x2="734" y2="1310.6" stroke="#111111" stroke-width="3" />
<path d="M738.6,1298.6 C734.5,1300.6 733.2,1307.6 735,1310.6 C738,1313.6 744.5,1314.6 743.5,1318.6 C743,1320.6 741,1322.6 739,1323.6" fill="none" stroke="#111111" stroke-width="1.6"/>
<circle cx="634.2" cy="1347.4" r="3.6" fill="#fff" stroke="#111111" stroke-width="1.5"/>
<text transform="translate(637.3,1341.2) scale(0.93,1)" font-size="16.5" text-anchor="start" fill="#111111" stroke="#111111" stroke-width="0.15">A:14</text>
<line x1="638" y1="1347.4" x2="734" y2="1347.4" stroke="#111111" stroke-width="5.5" />
<path d="M738.6,1335.4 C734.5,1337.4 733.2,1344.4 735,1347.4 C738,1350.4 744.5,1351.4 743.5,1355.4 C743,1357.4 741,1359.4 739,1360.4" fill="none" stroke="#111111" stroke-width="1.6"/>
<polyline points="706,1303.1 691.9,1303.1 680.3,1353 668.5,1353" fill="none" stroke="#111111" stroke-width="1.4" stroke-linejoin="miter" />
<circle cx="340.2" cy="770.2" r="0.9" fill="#111111"/>
<line x1="340.6" y1="774.8" x2="342.7" y2="777.6" stroke="#111111" stroke-width="1.6" stroke-linecap="round"/>
<line x1="354.4" y1="794.7" x2="356.3" y2="800.3" stroke="#111111" stroke-width="1.8" stroke-linecap="round"/>
<ellipse cx="540.5" cy="0.8" rx="0.8" ry="1.3" fill="#555"/>
<circle cx="414.6" cy="1537.7" r="0.7" fill="#777"/>
<circle cx="252.5" cy="534.3" r="0.9" fill="#444"/>
</svg></body></html>
